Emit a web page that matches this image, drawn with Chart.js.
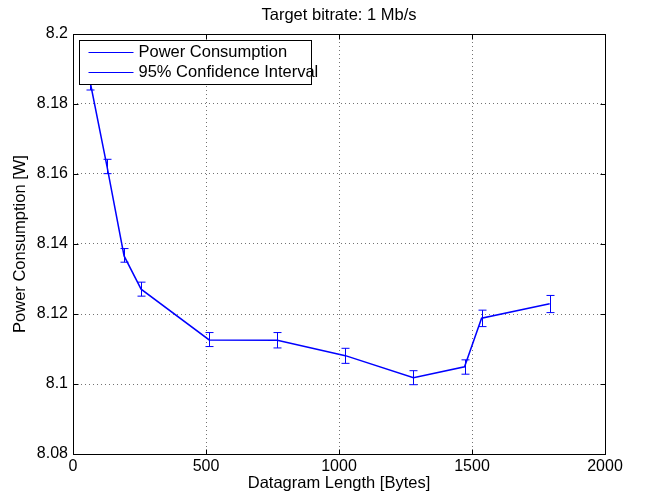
<!DOCTYPE html>
<html>
<head>
<meta charset="utf-8">
<title>Target bitrate: 1 Mb/s</title>
<script src="https://cdn.jsdelivr.net/npm/chart.js@4.4.0/dist/chart.umd.min.js"></script>
<style>
    html, body { margin: 0; padding: 0; background: #ffffff; }
</style>
</head>
<body>
<canvas id="powerChart" width="645" height="495"></canvas>
<script>
// --- Data ---
const datagramLengths = [64, 128, 192, 256, 512, 768, 1024, 1280, 1472, 1536, 1792];
const meanPower = [8.1865, 8.1621, 8.1366, 8.1271, 8.1126, 8.1125, 8.1081, 8.1018, 8.1049, 8.1188, 8.1229];
const ciLower = [8.1840, 8.1601, 8.1348, 8.1251, 8.1107, 8.1103, 8.1059, 8.0998, 8.1028, 8.1164, 8.1204];
const ciUpper = [8.1890, 8.1642, 8.1387, 8.1291, 8.1147, 8.1147, 8.1102, 8.1038, 8.1069, 8.1211, 8.1253];

const xTickValues = [0, 500, 1000, 1500, 2000];
const yTickValues = [8.08, 8.1, 8.12, 8.14, 8.16, 8.18, 8.2];
const legendLabels = ['Power Consumption', '95% Confidence Interval'];

const chartTitle = 'Target bitrate: 1 Mb/s';
const xAxisTitle = 'Datagram Length [Bytes]';
const yAxisTitle = 'Power Consumption [W]';

const BLUE = '#0000ff';
const FONT = "'Liberation Sans', Arial, Helvetica, sans-serif";

// error bars, matlab style box with inward ticks, title over the axes and the legend
const matlabPlugin = {
    id: 'matlabStyle',
    afterDatasetsDraw(chart) {
        const ctx = chart.ctx;
        const xs = chart.scales.x;
        const ys = chart.scales.y;
        const capHalf = 4;

        ctx.save();
        ctx.strokeStyle = BLUE;
        ctx.lineWidth = 1;
        datagramLengths.forEach((len, i) => {
            const px = Math.round(xs.getPixelForValue(len)) + 0.5;
            const yLo = ys.getPixelForValue(ciLower[i]);
            const yHi = ys.getPixelForValue(ciUpper[i]);
            ctx.beginPath();
            ctx.moveTo(px, yLo);
            ctx.lineTo(px, yHi);
            ctx.moveTo(px - capHalf, yLo);
            ctx.lineTo(px + capHalf, yLo);
            ctx.moveTo(px - capHalf, yHi);
            ctx.lineTo(px + capHalf, yHi);
            ctx.stroke();
        });
        ctx.restore();
    },
    afterDraw(chart) {
        const ctx = chart.ctx;
        const area = chart.chartArea;
        const xs = chart.scales.x;
        const ys = chart.scales.y;
        const left = Math.round(area.left) + 0.5;
        const right = Math.round(area.right) + 0.5;
        const top = Math.round(area.top) + 0.5;
        const bottom = Math.round(area.bottom) + 0.5;
        const tickLen = 5;

        ctx.save();
        ctx.strokeStyle = '#000000';
        ctx.lineWidth = 1;
        ctx.strokeRect(left, top, right - left, bottom - top);

        // inward ticks on all four sides
        ctx.beginPath();
        xTickValues.forEach(v => {
            const px = Math.round(xs.getPixelForValue(v)) + 0.5;
            ctx.moveTo(px, bottom);
            ctx.lineTo(px, bottom - tickLen);
            ctx.moveTo(px, top);
            ctx.lineTo(px, top + tickLen);
        });
        yTickValues.forEach(v => {
            const py = Math.round(ys.getPixelForValue(v)) + 0.5;
            ctx.moveTo(left, py);
            ctx.lineTo(left + tickLen, py);
            ctx.moveTo(right, py);
            ctx.lineTo(right - tickLen, py);
        });
        ctx.stroke();

        // title, centred over the axes like matlab does
        ctx.font = '16.5px ' + FONT;
        ctx.fillStyle = '#000000';
        ctx.textAlign = 'center';
        ctx.textBaseline = 'middle';
        ctx.fillText(chartTitle, (area.left + area.right) / 2, 15);

        // legend box in the upper left corner
        const boxX = left + 6;
        const boxY = top + 6;
        const boxW = 232;
        const boxH = 44;
        ctx.fillStyle = '#ffffff';
        ctx.fillRect(boxX, boxY, boxW, boxH);
        ctx.strokeRect(boxX, boxY, boxW, boxH);

        ctx.textAlign = 'left';
        legendLabels.forEach((label, i) => {
            const rowY = boxY + 12 + i * 20;
            ctx.strokeStyle = BLUE;
            ctx.beginPath();
            ctx.moveTo(boxX + 9, rowY);
            ctx.lineTo(boxX + 54, rowY);
            ctx.stroke();
            ctx.fillStyle = '#000000';
            ctx.fillText(label, boxX + 59, rowY);
        });
        ctx.restore();
    }
};

const points = datagramLengths.map((len, i) => ({ x: len, y: meanPower[i] }));

new Chart(document.getElementById('powerChart'), {
    type: 'line',
    data: {
        datasets: [{
            label: legendLabels[0],
            data: points,
            borderColor: BLUE,
            borderWidth: 1.5,
            pointRadius: 0,
            tension: 0,
            fill: false
        }]
    },
    options: {
        responsive: false,
        animation: false,
        layout: {
            padding: { top: 34, right: 40, bottom: 0, left: 0 }
        },
        plugins: {
            legend: { display: false },
            tooltip: { enabled: false },
            title: { display: false }
        },
        scales: {
            x: {
                type: 'linear',
                min: 0,
                max: 2000,
                afterBuildTicks: scale => {
                    scale.ticks = xTickValues.map(v => ({ value: v }));
                },
                afterFit: scale => { scale.height = 41; },
                ticks: {
                    color: '#000000',
                    font: { family: FONT, size: 16 },
                    padding: 3,
                    maxRotation: 0,
                    autoSkip: false,
                    callback: v => String(v)
                },
                grid: {
                    color: 'rgba(0,0,0,0.55)',
                    lineWidth: 1,
                    drawTicks: false
                },
                border: { display: false, dash: [1, 3] },
                title: {
                    display: true,
                    text: xAxisTitle,
                    color: '#000000',
                    font: { family: FONT, size: 16.5, lineHeight: 1.2 },
                    padding: { top: 0, bottom: 2 }
                }
            },
            y: {
                type: 'linear',
                min: 8.08,
                max: 8.2,
                afterBuildTicks: scale => {
                    scale.ticks = yTickValues.map(v => ({ value: v }));
                },
                afterFit: scale => { scale.width = 73; },
                ticks: {
                    color: '#000000',
                    font: { family: FONT, size: 16 },
                    padding: 5,
                    autoSkip: false,
                    callback: v => String(Math.round(v * 100) / 100)
                },
                grid: {
                    color: 'rgba(0,0,0,0.55)',
                    lineWidth: 1,
                    drawTicks: false
                },
                border: { display: false, dash: [1, 3] },
                title: {
                    display: true,
                    text: yAxisTitle,
                    color: '#000000',
                    font: { family: FONT, size: 16.5, lineHeight: 1.2 },
                    padding: { top: 11, bottom: 0 }
                }
            }
        }
    },
    plugins: [matlabPlugin]
});
</script>
</body>
</html>
